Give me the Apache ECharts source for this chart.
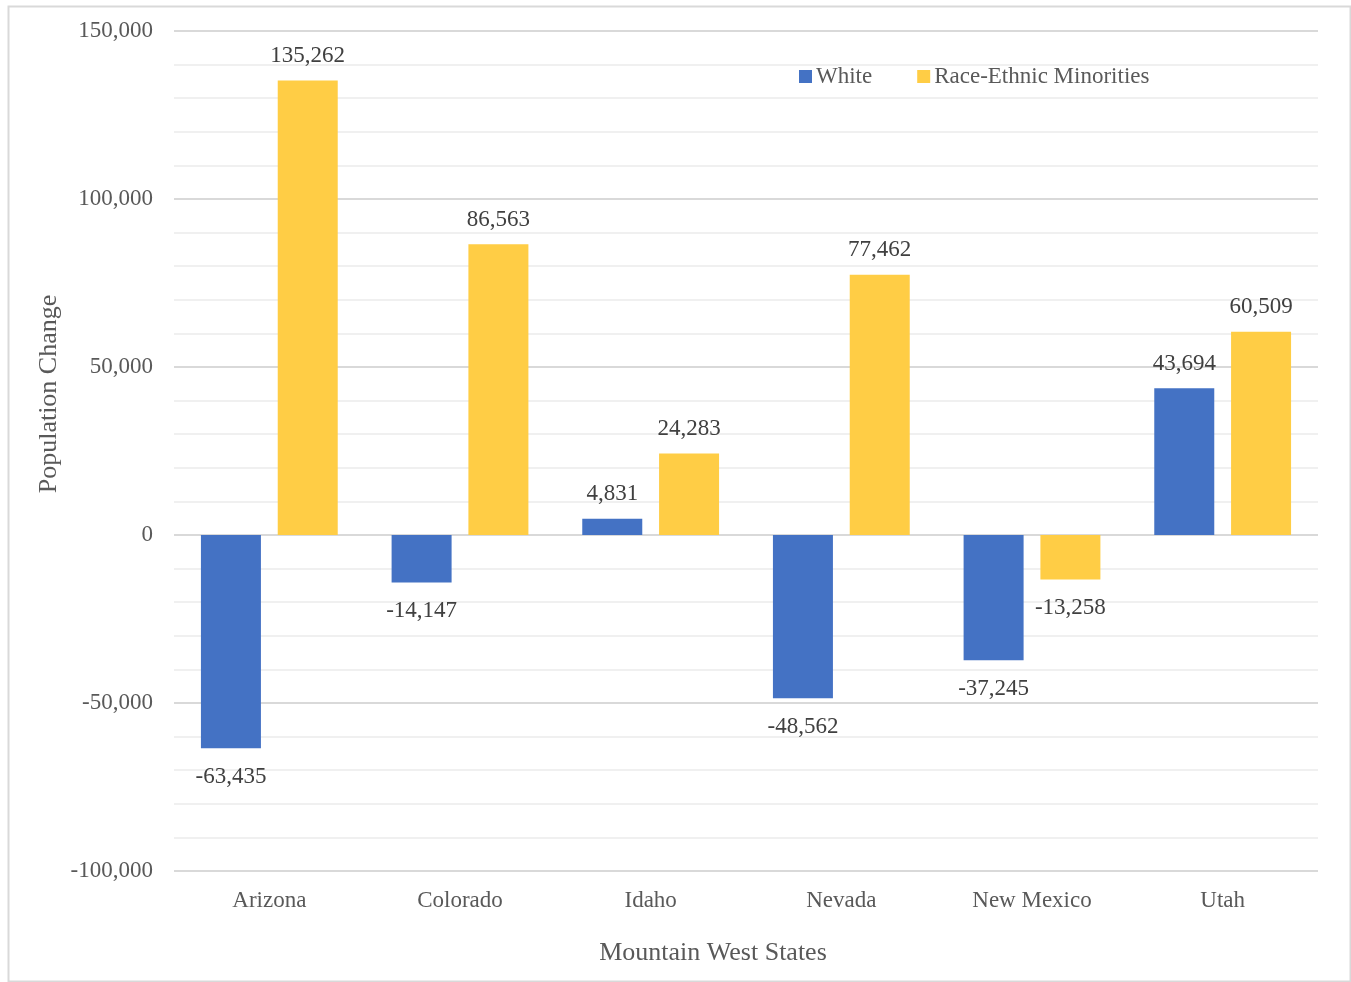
<!DOCTYPE html>
<html>
<head>
<meta charset="utf-8">
<script src="https://cdn.jsdelivr.net/npm/echarts@6/dist/echarts.min.js"></script>
<style>
html,body{margin:0;padding:0;background:#fff;}
#chart{width:1351px;height:982px;}
</style>
</head>
<body>
<div id="chart"></div>
<script>
const states = ['Arizona', 'Colorado', 'Idaho', 'Nevada', 'New Mexico', 'Utah'];
const white = [-63435, -14147, 4831, -48562, -37245, 43694];
const minorities = [135262, 86563, 24283, 77462, -13258, 60509];
const seriesNames = ['White', 'Race-Ethnic Minorities'];
const yTicks = { min: -100000, max: 150000, interval: 50000 };
const xTitle = 'Mountain West States';
const yTitle = 'Population Change';

const FONT = "'Liberation Serif', 'DejaVu Serif', serif";
const TXT = '#595959';
const fmt = v => (v < 0 ? '-' : '') + Math.abs(v).toLocaleString('en-US');

function mkData(arr) {
  return arr.map(v => ({
    value: v,
    label: v < 0 ? { position: 'bottom', distance: 17 } : { position: 'top', distance: 13 }
  }));
}

const chart = echarts.init(document.getElementById('chart'));
chart.setOption({
  animation: false,
  backgroundColor: '#fff',
  textStyle: { fontFamily: FONT },
  grid: { left: 174, right: 33, top: 31, bottom: 111, containLabel: false },
  legend: {
    data: seriesNames,
    left: 794, top: 60,
    itemWidth: 13, itemHeight: 13, itemGap: 45,
    icon: 'rect',
    textStyle: { fontFamily: FONT, fontSize: 23, color: TXT, padding: [0, 0, 0, -1] }
  },
  xAxis: {
    type: 'category',
    data: states,
    axisLine: { show: false, onZero: false },
    axisTick: { show: false },
    axisLabel: { fontFamily: FONT, fontSize: 23, color: TXT, margin: 18 },
    splitLine: { show: false }
  },
  yAxis: {
    type: 'value',
    min: yTicks.min, max: yTicks.max, interval: yTicks.interval,
    axisLine: { show: false },
    axisTick: { show: false },
    axisLabel: { fontFamily: FONT, fontSize: 23, color: TXT, margin: 21, formatter: v => fmt(v) },
    splitLine: { show: true, lineStyle: { color: '#d9d9d9', width: 2 } },
    minorTick: { show: false, splitNumber: 5 },
    minorSplitLine: { show: true, lineStyle: { color: '#f0f0f0', width: 2 } }
  },
  series: [
    {
      name: seriesNames[0], type: 'bar', data: mkData(white),
      barWidth: 60, barGap: '28%',
      itemStyle: { color: '#4472C4' },
      label: { show: true, fontFamily: FONT, fontSize: 23, color: '#404040', formatter: p => fmt(p.value) }
    },
    {
      name: seriesNames[1], type: 'bar', data: mkData(minorities),
      barWidth: 60, barGap: '28%',
      itemStyle: { color: '#FFCD45' },
      label: { show: true, fontFamily: FONT, fontSize: 23, color: '#404040', formatter: p => fmt(p.value) }
    }
  ],
  graphic: [
    { type: 'rect', left: 6, top: 4, shape: { width: 1342, height: 975 }, style: { fill: 'none', stroke: '#d9d9d9', lineWidth: 2 }, z: -1 },
    { type: 'text', x: 713, y: 953, style: { text: xTitle, font: "26px " + FONT, fill: TXT, textAlign: 'center', textVerticalAlign: 'middle' } },
    { type: 'text', x: 49, y: 394, rotation: Math.PI / 2, style: { text: yTitle, font: "26px " + FONT, fill: TXT, textAlign: 'center', textVerticalAlign: 'middle' } }
  ]
});
</script>
</body>
</html>
